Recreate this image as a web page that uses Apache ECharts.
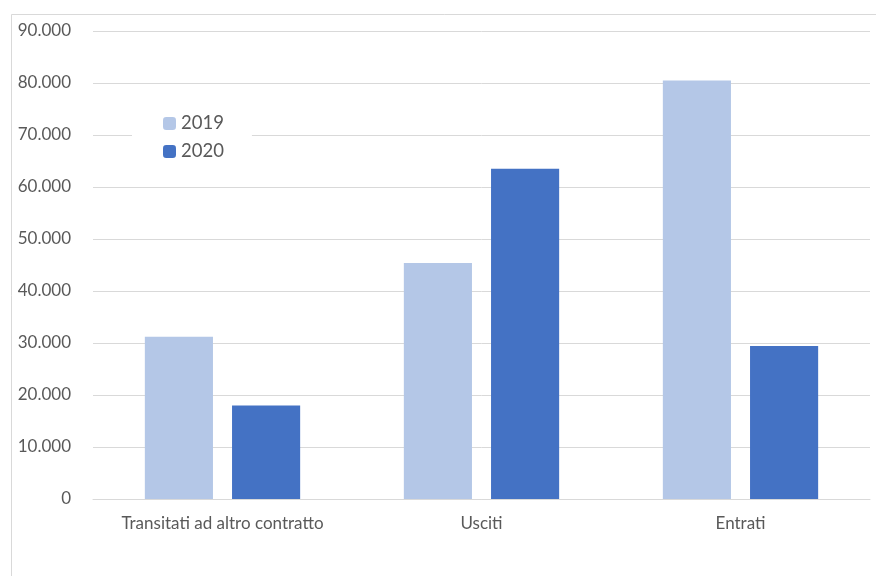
<!DOCTYPE html>
<html>
<head>
<meta charset="utf-8">
<script src="https://cdn.jsdelivr.net/npm/echarts@6/dist/echarts.min.js"></script>
<style>
html,body{margin:0;padding:0;background:#fff;}
#chart{width:876px;height:576px;}
</style>
</head>
<body>
<div id="chart"></div>
<script>
// Categories and yearly counts
const categories = ['Transitati ad altro contratto', 'Usciti', 'Entrati'];
const values2019 = [31200, 45400, 80500];
const values2020 = [18000, 63500, 29400];
const yMax = 90000;
const yStep = 10000;

function itNumber(v) {
  return String(Math.round(v)).replace(/\B(?=(\d{3})+(?!\d))/g, '.');
}

const fontFamily = 'Lato, "Noto Sans", sans-serif';
const chart = echarts.init(document.getElementById('chart'), null, { renderer: 'canvas' });
chart.setOption({
  animation: false,
  backgroundColor: '#ffffff',
  textStyle: { fontFamily: fontFamily },
  graphic: [{
    type: 'rect',
    z: -10,
    shape: { x: 11.5, y: 14.5, width: 900, height: 600 },
    style: { fill: 'none', stroke: '#d9d9d9', lineWidth: 1 }
  }],
  grid: { left: 93, right: 6, top: 31, bottom: 77, containLabel: false },
  legend: {
    orient: 'vertical',
    left: 132,
    top: 108,
    backgroundColor: '#ffffff',
    padding: [6, 28, 6, 31],
    itemWidth: 13,
    itemHeight: 13,
    itemGap: 9,
    textStyle: { fontSize: 18.5, color: '#595959', fontFamily: fontFamily },
    data: ['2019', '2020']
  },
  xAxis: {
    type: 'category',
    data: categories,
    axisLine: { lineStyle: { color: '#d9d9d9' } },
    axisTick: { show: false },
    axisLabel: { color: '#595959', fontSize: 17, margin: 16, interval: 0, hideOverlap: false, fontFamily: fontFamily }
  },
  yAxis: {
    type: 'value',
    min: 0,
    max: yMax,
    interval: yStep,
    axisLine: { show: false },
    axisTick: { show: false },
    splitLine: { lineStyle: { color: '#d9d9d9' } },
    axisLabel: { color: '#595959', fontSize: 17, margin: 22, formatter: itNumber, fontFamily: fontFamily }
  },
  series: [
    {
      name: '2019', type: 'bar', data: values2019,
      barWidth: '26.3%', barGap: '28%',
      itemStyle: { color: '#b4c7e7' }
    },
    {
      name: '2020', type: 'bar', data: values2020,
      barWidth: '26.3%', barGap: '28%',
      itemStyle: { color: '#4472c4' }
    }
  ]
});
</script>
</body>
</html>
